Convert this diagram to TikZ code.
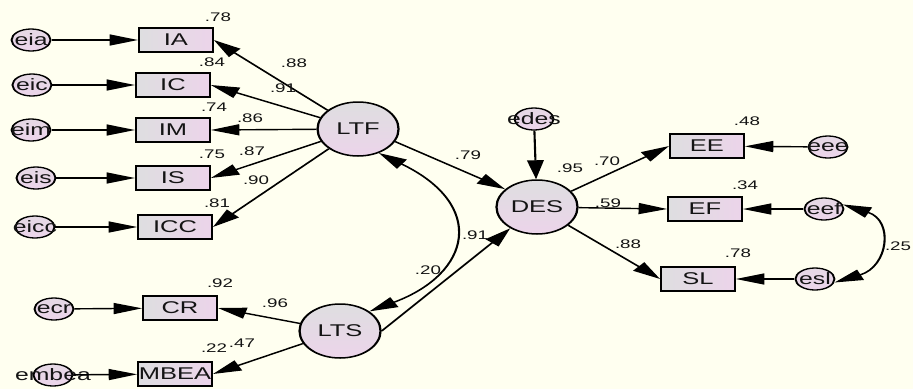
\documentclass[tikz,border=0pt]{standalone}
\usepackage{fontspec}
\setmainfont{Liberation Sans}
\usetikzlibrary{arrows.meta,shapes.geometric}
\definecolor{bgc}{RGB}{255,255,240}
\definecolor{gshade}{RGB}{222,222,224}
\definecolor{pshade}{RGB}{236,212,234}
\definecolor{txt}{RGB}{20,20,20}
\begin{document}
\begin{tikzpicture}[x=1pt,y=1pt,
  box/.style={draw, line width=1.5pt, minimum width=49pt, minimum height=24pt, inner sep=0pt,
    left color=gshade, right color=pshade, text=txt, font=\fontsize{17}{18}\selectfont},
  lat/.style={circle, draw, line width=1.5pt, minimum size=54pt, inner sep=0pt,
    top color=gshade, bottom color=pshade, text=txt, font=\fontsize{17}{18}\selectfont},
  err/.style={ellipse, draw, line width=1.3pt, minimum width=26pt, minimum height=22pt, inner sep=0pt,
    top color=gshade!50!pshade, bottom color=pshade},
  errtxt/.style={text=txt, inner sep=0pt, font=\fontsize{16.5}{18}\selectfont},
  lbl/.style={text=txt, inner sep=0pt, font=\fontsize{12.5}{14}\selectfont},
  arr/.style={-{Triangle[length=19pt,width=11pt]}, line width=1.4pt},
  dbl/.style={{Triangle[length=19pt,width=11pt]}-{Triangle[length=19pt,width=11pt]}, line width=1.4pt}]
\useasboundingbox (0,0) rectangle (913,-389);
\fill[bgc] (0,0) rectangle (913,-389);
\begin{scope}[transform canvas={xscale=1.5}]
% indicator boxes
\node[box] (IA) at (117.3,-40) {IA};
\node[box] (IC) at (115.3,-85) {IC};
\node[box] (IM) at (115.3,-130) {IM};
\node[box] (IS) at (115.3,-178) {IS};
\node[box] (ICC) at (116.7,-227) {ICC};
\node[box] (CR) at (120,-308) {CR};
\node[box] (MBEA) at (116.7,-374) {MBEA};
\node[box] (EE) at (471.3,-146) {EE};
\node[box] (EF) at (470,-209) {EF};
\node[box] (SL) at (465.3,-279) {SL};
% latent
\node[lat] (LTF) at (238.7,-129) {LTF};
\node[lat] (DES) at (358,-207) {DES};
\node[lat] (LTS) at (226.7,-331) {LTS};
% errors
\node[err, label={[errtxt]center:eia}] (eia) at (20.7,-40) {};
\node[err, label={[errtxt]center:eic}] (eic) at (21.3,-85) {};
\node[err, label={[errtxt]center:eim}] (eim) at (20.7,-130) {};
\node[err, label={[errtxt]center:eis}] (eis) at (24,-178) {};
\node[err, label={[errtxt]center:eicc}] (eicc) at (23.3,-227) {};
\node[err, label={[errtxt]center:ecr}] (ecr) at (36,-309) {};
\node[err, label={[errtxt]center:embea}] (embea) at (35.3,-375) {};
\node[err, label={[errtxt]center:edes}] (edes) at (356,-119) {};
\node[err, label={[errtxt]center:eee}] (eee) at (552,-147) {};
\node[err, label={[errtxt]center:eef}] (eef) at (549.3,-209) {};
\node[err, label={[errtxt]center:esl}] (esl) at (543.3,-279) {};
% error arrows
\draw[arr] (eia) -- (IA);
\draw[arr] (eic) -- (IC);
\draw[arr] (eim) -- (IM);
\draw[arr] (eis) -- (IS);
\draw[arr] (eicc) -- (ICC);
\draw[arr] (ecr) -- (CR);
\draw[arr] (embea) -- (MBEA);
\draw[arr] (edes) -- (DES);
\draw[arr] (eee) -- (EE);
\draw[arr] (eef) -- (EF);
\draw[arr] (esl) -- (SL);
% loadings
\draw[arr] (LTF) -- (IA.east);
\draw[arr] (LTF) -- (IC.east);
\draw[arr] (LTF) -- (IM.east);
\draw[arr] (LTF) -- (IS.east);
\draw[arr] (LTF) -- (ICC.east);
\draw[arr] (LTS) -- (CR.east);
\draw[arr] (LTS) -- (MBEA.east);
\draw[arr] (DES) -- (EE.west);
\draw[arr] (DES) -- (EF.west);
\draw[arr] (DES) -- (SL.west);
% structural
\draw[arr] (LTF.-27) -- (DES.140);
\draw[arr] (LTS.0) -- (DES.-130);
% covariances
\draw[dbl] (LTF.-60) .. controls +(72,-52) and +(68,38) .. (LTS.45);
\draw[dbl] (eef.20) .. controls +(34,-16) and +(36,16) .. (esl.-15);
% labels
\node[lbl] (l1) at (145.3,-17) {.78};
\node[lbl] (l2) at (141.3,-62) {.84};
\node[lbl] (l3) at (142.7,-107) {.74};
\node[lbl] (l4) at (141.3,-154) {.75};
\node[lbl] (l5) at (168,-151) {.87};
\node[lbl] (l6) at (144.7,-203) {.81};
\node[lbl] (l7) at (196,-63) {.88};
\node[lbl] (l8) at (188.7,-88) {.91};
\node[lbl] (l9) at (166.7,-118) {.86};
\node[lbl] (l10) at (170.7,-180) {.90};
\node[lbl] (l11) at (146.7,-283) {.92};
\node[lbl] (l12) at (183.3,-303) {.96};
\node[lbl] (l13) at (142.7,-348) {.22};
\node[lbl] (l14) at (161.3,-343) {.47};
\node[lbl] (l15) at (312,-155) {.79};
\node[lbl] (l16) at (380,-168) {.95};
\node[lbl] (l17) at (316.7,-235) {.91};
\node[lbl] (l18) at (285.3,-270) {.20};
\node[lbl] (l19) at (404.7,-161) {.70};
\node[lbl] (l20) at (405.3,-203) {.59};
\node[lbl] (l21) at (418.7,-244) {.88};
\node[lbl] (l22) at (498,-121) {.48};
\node[lbl] (l23) at (496.7,-185) {.34};
\node[lbl] (l24) at (492,-253) {.78};
\node[lbl] (l25) at (598.7,-246) {.25};
\end{scope}
\end{tikzpicture}
\end{document}
